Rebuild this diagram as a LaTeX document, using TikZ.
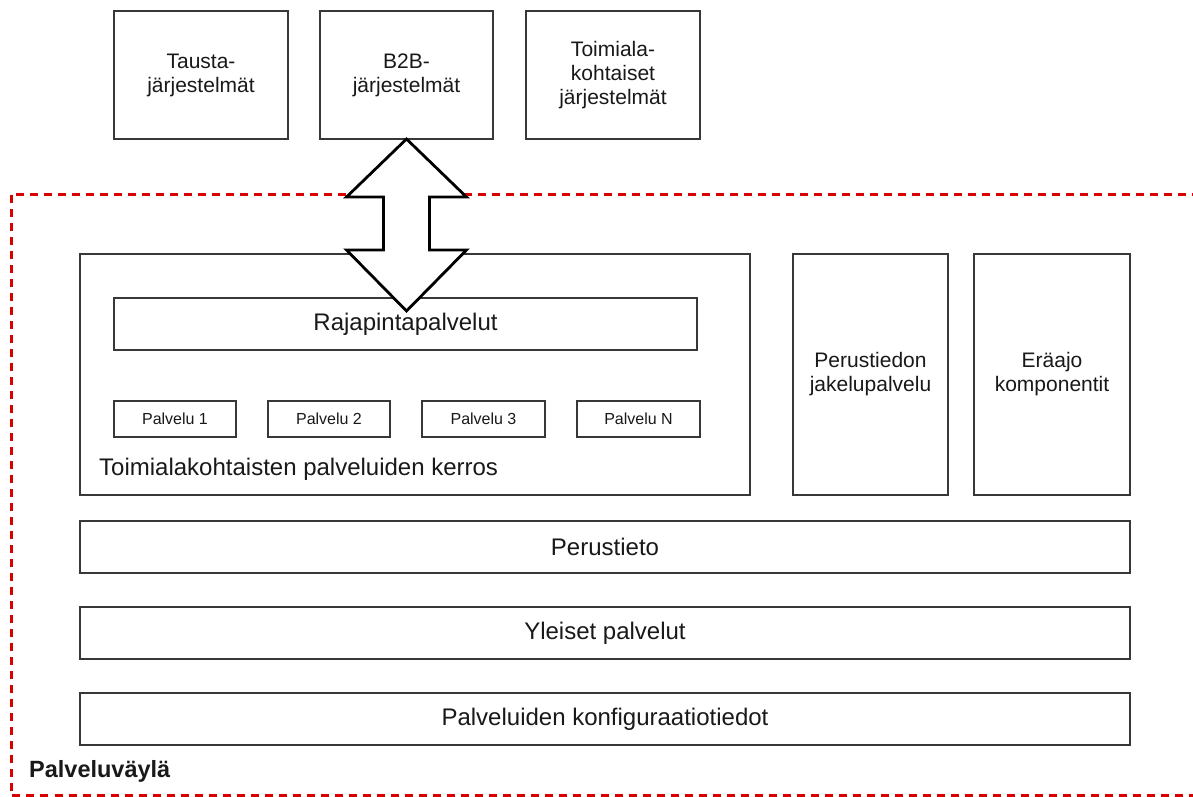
\documentclass[tikz,border=0pt]{standalone}
\usepackage{fontspec}
\setmainfont{Liberation Sans}
\begin{document}
\begin{tikzpicture}[x=1pt,y=-1pt,
  box/.style={draw=black!78, line width=2.6pt, fill=white, inner sep=0pt, outer sep=0pt, align=center, text=black!90},
  bigtxt/.style={font=\fontsize{24}{28}\selectfont},
  midtxt/.style={font=\fontsize{21}{24}\selectfont},
  smalltxt/.style={font=\fontsize{16}{19}\selectfont},
  bus/.style={draw=red!85!black, line width=3pt, dash pattern=on 8pt off 6pt},
  bigarrow/.style={draw=black, line width=2.8pt, fill=white, line join=miter}]
\useasboundingbox (0,0) rectangle (1193,797);
% bus border
\begin{scope}
\clip (0,0) rectangle (1193,797);
\draw[bus] (1200,194) -- (11,194) -- (11,795.5) -- (1200,795.5);
\end{scope}
% top systems
\node[box, midtxt, minimum width=174, minimum height=128] (tausta) at (201,75) {Tausta-\\järjestelmät};
\node[box, midtxt, minimum width=173, minimum height=128] (b2b) at (406.5,75) {B2B-\\järjestelmät};
\node[box, midtxt, minimum width=174, minimum height=128] (toimiala) at (613,75) {Toimiala-\\kohtaiset\\järjestelmät};
% domain layer
\node[box, minimum width=670, minimum height=241] (layer) at (415,374.5) {};
\node[box, bigtxt, minimum width=583, minimum height=52] (raja) at (405.5,324) {Rajapintapalvelut};
\node[box, smalltxt, minimum width=122, minimum height=36] (p1) at (175,419) {Palvelu 1};
\node[box, smalltxt, minimum width=122, minimum height=36] (p2) at (329,419) {Palvelu 2};
\node[box, smalltxt, minimum width=123, minimum height=36] (p3) at (483.5,419) {Palvelu 3};
\node[box, smalltxt, minimum width=123, minimum height=36] (pn) at (638.5,419) {Palvelu N};
\node[anchor=west, bigtxt, inner sep=0pt, text=black!90] (layerlbl) at (99,469) {Toimialakohtaisten palveluiden kerros};
% side boxes
\node[box, midtxt, minimum width=155, minimum height=241] (jakelu) at (870.5,374.5) {Perustiedon\\jakelupalvelu};
\node[box, midtxt, minimum width=156, minimum height=241] (eraajo) at (1052,374.5) {Eräajo\\komponentit};
% horizontal layers
\node[box, bigtxt, minimum width=1050, minimum height=52] (perustieto) at (605,547) {Perustieto};
\node[box, bigtxt, minimum width=1050, minimum height=52] (yleiset) at (605,633) {Yleiset palvelut};
\node[box, bigtxt, minimum width=1050, minimum height=52] (konfig) at (605,719) {Palveluiden konfiguraatiotiedot};
% bus label
\node[anchor=west, inner sep=0pt, font=\fontsize{23.5}{27}\selectfont\bfseries, text=black!90] (buslbl) at (29,771) {Palveluväylä};
% big double arrow between B2B and Rajapintapalvelut
\draw[bigarrow] (b2b.south) -- ++(60,58) -- ++(-37,0) -- ++(0,53) -- ++(37,0) -- ++(-60,61)
  -- ++(-60,-61) -- ++(37,0) -- ++(0,-53) -- ++(-37,0) -- cycle;
\end{tikzpicture}
\end{document}
